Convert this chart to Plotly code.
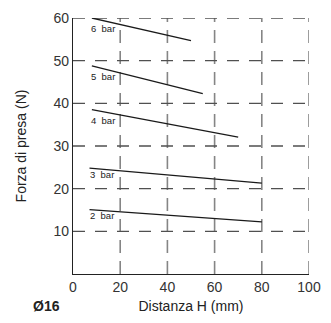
import plotly.graph_objects as go

pressures = ["6 bar", "5 bar", "4 bar", "3 bar", "2 bar"]
x_start = [8, 8, 8, 7, 7]
x_end = [50, 55, 70, 80, 80]
force_start = [60.0, 48.8, 38.5, 24.8, 15.1]
force_end = [54.7, 42.3, 32.1, 21.3, 12.2]
label_x = [12.7, 12.7, 12.7, 12.2, 12.2]
label_y = [57.5, 46.2, 36.0, 23.4, 13.8]

x_ticks = [0, 20, 40, 60, 80, 100]
y_ticks = [10, 20, 30, 40, 50, 60]

FONT = "Liberation Sans, Arial, Helvetica"

fig = go.Figure()

# vertical dashed grid
for xv in x_ticks[1:]:
    fig.add_shape(type="line", x0=xv, x1=xv, y0=0, y1=60, xref="x", yref="y",
                  line=dict(color="#858585", width=1.6, dash="13px,8px"), layer="below")
# horizontal dashed grid
for yv in y_ticks:
    fig.add_shape(type="line", x0=0, x1=100, y0=yv, y1=yv, xref="x", yref="y",
                  line=dict(color="#505050", width=1.3, dash="12px,10px"), layer="below")

for i, p in enumerate(pressures):
    fig.add_trace(go.Scatter(x=[x_start[i], x_end[i]], y=[force_start[i], force_end[i]],
                             mode="lines", line=dict(color="#1a1a1a", width=1.3),
                             showlegend=False, hoverinfo="skip"))
    fig.add_annotation(x=label_x[i], y=label_y[i], text=p.replace(" ", "&nbsp;&nbsp;"),
                       showarrow=False,
                       font=dict(family=FONT, size=9.5, color="#222"))

fig.add_annotation(x=-0.177, xref="paper", y=-0.125, yref="paper", text="<b>Ø16</b>",
                   showarrow=False, xanchor="left", yanchor="middle",
                   font=dict(family=FONT, size=14, color="#222"))

fig.update_xaxes(range=[0, 100], tickvals=x_ticks, showgrid=False, zeroline=False,
                 showline=True, linecolor="#222", linewidth=1.3, ticks="", ticklen=0,
                 tickfont=dict(family=FONT, size=14, color="#333"),
                 title=dict(text="Distanza H (mm)", standoff=7,
                            font=dict(family=FONT, size=14, color="#222")))
fig.update_yaxes(range=[0, 60], tickvals=y_ticks, showgrid=False, zeroline=False,
                 showline=True, linecolor="#222", linewidth=1.3, ticks="", ticklen=0,
                 tickfont=dict(family=FONT, size=14, color="#333"),
                 title=dict(text="Forza di presa (N)", standoff=23,
                            font=dict(family=FONT, size=14, color="#222")))

fig.update_layout(width=331, height=323, margin=dict(l=73, r=20, t=10, b=49),
                  plot_bgcolor="white", paper_bgcolor="white")

fig.write_html("out.html", config={"displayModeBar": False},
               post_script="document.body.style.margin='0';document.body.style.overflow='hidden';")
